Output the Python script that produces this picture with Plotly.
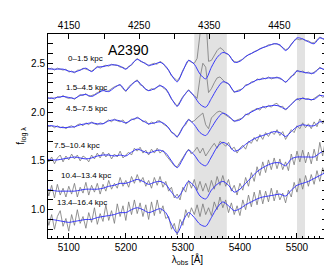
import plotly.graph_objects as go

REDSHIFT = 0.229
wave_model = list(range(5060, 5561, 10))
wave_obs = list(range(5060, 5561, 5))

labels = ["0\u20131.5 kpc", "1.5\u20134.5 kpc", "4.5\u20137.5 kpc",
          "7.5\u201310.4 kpc", "10.4\u201313.4 kpc", "13.4\u201316.4 kpc"]
label_x = [5096, 5091, 5091, 5071, 5083, 5076]
label_y = [2.55, 2.25, 2.04, 1.66, 1.35, 1.07]

shaded = [(5320, 5377), (5500, 5514)]

model1 = [2.45,2.44,2.44,2.44,2.42,2.41,2.43,2.45,2.415,2.46,2.465,2.48,2.485,2.47,2.44,2.49,2.54,2.51,2.48,2.49,2.51,2.47,2.38,2.31,2.42,2.53,2.49,2.39,2.34,2.46,2.56,2.61,2.59,2.51,2.52,2.57,2.60,2.63,2.66,2.68,2.70,2.69,2.63,2.69,2.76,2.75,2.72,2.70,2.76,2.74,2.71]
model2 = [2.15,2.14,2.15,2.16,2.15,2.14,2.17,2.18,2.16,2.19,2.22,2.21,2.25,2.28,2.22,2.28,2.32,2.26,2.22,2.24,2.27,2.24,2.14,2.06,2.15,2.22,2.16,2.08,2.05,2.14,2.24,2.31,2.29,2.21,2.22,2.27,2.30,2.33,2.34,2.35,2.35,2.35,2.31,2.36,2.42,2.41,2.40,2.40,2.45,2.43,2.41]
model3 = [1.86,1.86,1.85,1.84,1.845,1.85,1.87,1.88,1.89,1.88,1.88,1.91,1.92,1.91,1.89,1.92,1.94,1.91,1.88,1.89,1.90,1.87,1.80,1.75,1.84,1.92,1.87,1.79,1.76,1.84,1.93,1.99,1.96,1.91,1.92,1.97,2.00,2.03,2.05,2.06,2.07,2.06,2.03,2.08,2.13,2.14,2.13,2.13,2.17,2.16,2.14]
model4 = [1.52,1.51,1.51,1.52,1.53,1.54,1.53,1.52,1.53,1.55,1.56,1.56,1.55,1.56,1.55,1.59,1.62,1.60,1.58,1.60,1.61,1.58,1.50,1.43,1.52,1.61,1.56,1.48,1.45,1.54,1.64,1.69,1.66,1.60,1.62,1.67,1.71,1.74,1.76,1.78,1.80,1.79,1.75,1.80,1.85,1.87,1.86,1.86,1.90,1.90,1.88]
model5 = [1.21,1.20,1.19,1.19,1.19,1.19,1.20,1.21,1.21,1.21,1.22,1.24,1.25,1.27,1.27,1.29,1.31,1.29,1.26,1.28,1.29,1.26,1.18,1.12,1.20,1.29,1.24,1.14,1.11,1.20,1.26,1.29,1.25,1.18,1.21,1.27,1.33,1.39,1.43,1.46,1.48,1.48,1.45,1.52,1.54,1.54,1.54,1.54,1.58,1.61,1.62]
model6 = [0.90,0.90,0.89,0.88,0.87,0.88,0.89,0.90,0.90,0.92,0.93,0.94,0.95,0.97,0.97,1.00,1.02,1.00,0.97,0.99,1.01,0.97,0.85,0.76,0.88,0.97,0.92,0.85,0.83,0.92,1.02,1.08,1.04,0.99,1.01,1.05,1.08,1.11,1.13,1.14,1.15,1.16,1.14,1.20,1.25,1.27,1.29,1.32,1.35,1.38,1.40]

obs1 = [2.46,2.44,2.45,2.43,2.45,2.44,2.43,2.44,2.41,2.42,2.40,2.43,2.43,2.45,2.44,2.43,2.42,2.44,2.47,2.45,
        2.47,2.48,2.47,2.49,2.48,2.48,2.46,2.46,2.44,2.47,2.48,2.52,2.55,2.52,2.51,2.50,2.47,2.49,2.50,2.49,
        2.52,2.50,2.46,2.43,2.37,2.35,2.32,2.36,2.43,2.48,2.53,2.51,2.50,2.55,2.75,3.05,3.00,2.52,2.53,2.58,
        2.63,2.66,2.64,2.60,2.59,2.55,2.52,2.51,2.53,2.54,2.57,2.59,2.60,2.62,2.63,2.65,2.66,2.67,2.69,2.69,
        2.70,2.70,2.68,2.66,2.64,2.65,2.70,2.73,2.75,2.74,2.75,2.73,2.73,2.71,2.71,2.74,2.77,2.75,2.74,2.72,2.71]
obs2 = [2.16,2.14,2.15,2.13,2.16,2.15,2.17,2.15,2.14,2.15,2.13,2.16,2.18,2.17,2.19,2.16,2.17,2.18,2.20,2.21,
        2.23,2.21,2.22,2.24,2.26,2.27,2.28,2.24,2.21,2.26,2.29,2.31,2.33,2.28,2.27,2.23,2.22,2.24,2.23,2.26,
        2.28,2.25,2.23,2.19,2.13,2.10,2.06,2.11,2.16,2.19,2.23,2.19,2.17,2.14,2.35,2.50,2.46,2.20,2.24,2.30,
        2.35,2.36,2.33,2.30,2.29,2.25,2.20,2.22,2.23,2.24,2.28,2.28,2.31,2.31,2.34,2.33,2.35,2.34,2.36,2.34,
        2.35,2.36,2.34,2.33,2.30,2.34,2.37,2.38,2.43,2.41,2.42,2.40,2.41,2.39,2.41,2.43,2.46,2.44,2.43,2.42,2.40]
obs3 = [1.87,1.85,1.86,1.84,1.86,1.84,1.85,1.83,1.85,1.86,1.84,1.87,1.88,1.86,1.89,1.87,1.90,1.88,1.87,1.89,
        1.88,1.90,1.92,1.90,1.93,1.91,1.90,1.92,1.88,1.90,1.93,1.92,1.95,1.93,1.90,1.91,1.87,1.90,1.88,1.91,
        1.91,1.88,1.86,1.84,1.79,1.78,1.74,1.80,1.85,1.87,1.93,1.90,1.91,1.94,1.97,1.99,1.87,1.83,1.94,1.97,
        2.00,2.01,1.99,1.97,1.95,1.93,1.90,1.92,1.93,1.94,1.98,1.97,2.01,2.02,2.04,2.02,2.06,2.04,2.07,2.05,
        2.08,2.09,2.05,2.06,2.02,2.05,2.09,2.12,2.14,2.12,2.15,2.13,2.14,2.12,2.14,2.16,2.18,2.15,2.17,2.14,2.15]
obs4 = [1.55,1.49,1.54,1.47,1.53,1.56,1.49,1.55,1.51,1.57,1.52,1.56,1.50,1.55,1.53,1.49,1.56,1.52,1.58,1.53,
        1.59,1.54,1.58,1.52,1.57,1.54,1.60,1.53,1.56,1.59,1.56,1.63,1.60,1.64,1.58,1.61,1.56,1.62,1.58,1.63,
        1.58,1.61,1.56,1.52,1.49,1.45,1.44,1.49,1.53,1.58,1.62,1.57,1.60,1.64,1.58,1.63,1.55,1.60,1.64,1.68,
        1.63,1.70,1.68,1.65,1.69,1.62,1.64,1.58,1.63,1.66,1.62,1.70,1.68,1.74,1.70,1.77,1.72,1.79,1.75,1.80,
        1.77,1.82,1.76,1.80,1.72,1.77,1.82,1.79,1.86,1.83,1.89,1.84,1.88,1.83,1.90,1.85,1.93,1.88,1.95,1.89,1.91]
obs5 = [1.28,1.14,1.25,1.12,1.26,1.15,1.22,1.13,1.24,1.16,1.27,1.13,1.23,1.17,1.28,1.15,1.25,1.18,1.27,1.16,
        1.26,1.19,1.30,1.21,1.27,1.22,1.33,1.24,1.30,1.23,1.34,1.27,1.36,1.28,1.33,1.24,1.30,1.22,1.33,1.25,
        1.34,1.23,1.29,1.19,1.23,1.12,1.16,1.10,1.23,1.18,1.30,1.22,1.31,1.20,1.29,1.19,1.27,1.18,1.30,1.21,
        1.34,1.25,1.35,1.24,1.31,1.19,1.25,1.15,1.27,1.20,1.33,1.24,1.38,1.29,1.44,1.35,1.49,1.38,1.51,1.41,
        1.53,1.42,1.52,1.41,1.49,1.40,1.57,1.46,1.60,1.49,1.61,1.48,1.59,1.47,1.62,1.50,1.69,1.55,1.72,1.56,1.66]
obs6 = [0.98,0.84,0.95,0.80,0.93,0.99,0.83,0.91,0.78,0.95,0.84,1.00,0.86,0.93,0.81,0.97,0.87,1.02,0.85,0.96,
        0.88,1.05,0.89,0.99,0.86,1.06,0.93,1.04,0.89,1.08,0.95,1.10,0.96,1.07,0.93,1.05,0.90,1.08,0.94,1.10,
        0.96,1.04,0.91,0.93,0.80,0.86,0.74,0.90,0.84,1.00,0.92,1.02,0.95,1.05,0.93,1.06,0.95,1.02,0.94,1.08,
        1.00,1.13,1.02,1.10,0.97,1.07,0.95,1.04,0.94,1.10,1.00,1.15,1.03,1.18,1.05,1.20,1.06,1.19,1.08,1.22,
        1.09,1.20,1.10,1.17,1.07,1.20,1.13,1.28,1.18,1.32,1.21,1.35,1.24,1.36,1.26,1.40,1.29,1.43,1.32,1.45,1.36]

models = [model1, model2, model3, model4, model5, model6]
observed = [obs1, obs2, obs3, obs4, obs5, obs6]

FONT = "Liberation Sans, Arial, Helvetica, sans-serif"
X_RANGE = [5063.6, 5552.6]
Y_RANGE = [0.71, 2.80]

fig = go.Figure()
for obs in observed:
    fig.add_trace(go.Scatter(x=wave_obs, y=obs, mode="lines",
                             line=dict(color="rgb(120,120,120)", width=0.8),
                             hoverinfo="skip", showlegend=False))
for mod in models:
    fig.add_trace(go.Scatter(x=wave_model, y=mod, mode="lines",
                             line=dict(color="rgb(55,55,250)", width=1.0, shape="spline", smoothing=0.8),
                             hoverinfo="skip", showlegend=False))
# invisible trace to activate the rest-frame axis
fig.add_trace(go.Scatter(x=[4150], y=[Y_RANGE[0]], xaxis="x2", mode="markers",
                         marker=dict(opacity=0), hoverinfo="skip", showlegend=False))

for x0, x1 in shaded:
    fig.add_shape(type="rect", xref="x", yref="paper", x0=x0, x1=x1, y0=0, y1=1,
                  fillcolor="rgb(226,226,226)", line=dict(width=0), layer="below")

for txt, lx, ly in zip(labels, label_x, label_y):
    fig.add_annotation(x=lx, y=ly, text=txt, showarrow=False, xanchor="left",
                       yanchor="middle", font=dict(size=8, color="black", family=FONT))
fig.add_annotation(x=5205, y=2.64, text="A2390", showarrow=False, xanchor="center",
                   yanchor="middle", font=dict(size=14, color="black", family=FONT))

fig.update_layout(
    width=332, height=266,
    margin=dict(l=36, r=13, t=22, b=34),
    paper_bgcolor="white", plot_bgcolor="white",
    font=dict(family=FONT, size=10, color="black"),
    xaxis=dict(range=X_RANGE, showgrid=False, zeroline=False, showline=True, linecolor="black",
               linewidth=1, mirror=True, ticks="inside", ticklen=5, tickcolor="black",
               tick0=5000, dtick=100, tickfont=dict(size=10),
               minor=dict(ticks="inside", ticklen=2.5, dtick=10, tickcolor="black"),
               title=dict(text="\u03bb<sub>obs</sub> [\u00c5]", font=dict(size=10), standoff=2)),
    xaxis2=dict(overlaying="x", side="top", range=[X_RANGE[0] / (1 + REDSHIFT), X_RANGE[1] / (1 + REDSHIFT)],
                showgrid=False, zeroline=False, showline=True, linecolor="black",
                ticks="inside", ticklen=5, tickcolor="black",
                tick0=4150, dtick=100, tickfont=dict(size=10),
                minor=dict(ticks="inside", ticklen=5, tick0=4150, dtick=50, tickcolor="black", showgrid=False)),
    yaxis=dict(range=Y_RANGE, showgrid=False, zeroline=False, showline=True, linecolor="black",
               linewidth=1, mirror="allticks", ticks="inside", ticklen=5, tickcolor="black",
               tick0=0, dtick=0.5, tickformat=".1f", tickfont=dict(size=10),
               minor=dict(ticks="inside", ticklen=2.5, dtick=0.1, tickcolor="black"),
               title=dict(text="f<sub>log \u03bb</sub>", font=dict(size=10), standoff=4)),
)

fig.write_html("out.html")
